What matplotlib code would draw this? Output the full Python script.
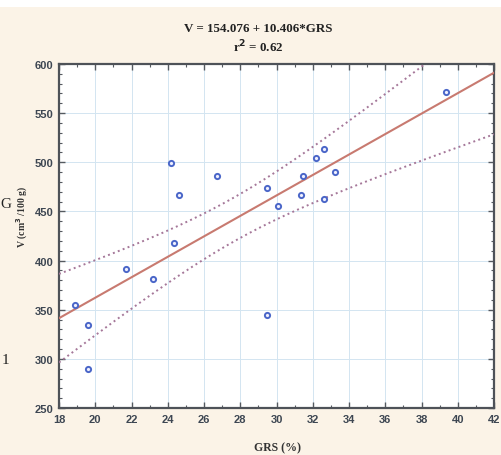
import numpy as np
import matplotlib
matplotlib.use("Agg")
import matplotlib.pyplot as plt
from matplotlib.ticker import MultipleLocator
from matplotlib.patches import Rectangle

# Data
grs = [18.9, 19.6, 19.6, 21.7, 23.2, 24.2, 24.35, 24.6, 26.7, 29.5, 29.5,
       30.1, 31.35, 31.45, 32.2, 32.6, 32.6, 33.2, 39.35]
vol = [355, 334, 290, 391, 381, 499, 418, 467, 486, 345, 474,
       456, 467, 486, 504, 514, 463, 490, 572]
intercept = 154.076
slope = 10.406
title_lines = ["V = 154.076 + 10.406*GRS", "r$^\\mathbf{2}$ = 0.62"]
xlabel = "GRS (%)"
ylabel = "V (cm$^\\mathbf{3}$ /100 g)"

x = np.array(grs)
y = np.array(vol)
n = len(x)

fig = plt.figure(figsize=(5.01, 4.56), dpi=100)
fig.patch.set_facecolor("#fbf3e7")
fig.patches.append(Rectangle((0, 1 - 8 / 456), 1, 8 / 456, transform=fig.transFigure,
                             facecolor="white", edgecolor="none", zorder=0))
ax = fig.add_axes([59 / 501, 1 - 409 / 456, 435 / 501, 344 / 456])
ax.set_facecolor("white")

# regression line and 95% confidence bands
xx = np.linspace(18, 42, 200)
yy = intercept + slope * xx
resid = y - (intercept + slope * x)
s = np.sqrt(np.sum(resid ** 2) / (n - 2))
sxx = np.sum((x - x.mean()) ** 2)
tval = 2.11
half = tval * s * np.sqrt(1 / n + (xx - x.mean()) ** 2 / sxx)

ax.plot(xx, yy, color="#c87a70", lw=1.5, zorder=3)
ax.plot(xx, yy + half, color="#a57799", lw=1.4, ls=(0, (1.0, 1.7)), zorder=3)
ax.plot(xx, yy - half, color="#a57799", lw=1.4, ls=(0, (1.0, 1.7)), zorder=3)

ax.scatter(x, y, s=14, facecolor="#f0f0ff", edgecolor="#4a66c8", lw=1.4, zorder=4)

ax.set_xlim(18, 42)
ax.set_ylim(250, 600)
ax.xaxis.set_major_locator(MultipleLocator(2))
ax.xaxis.set_minor_locator(MultipleLocator(1))
ax.yaxis.set_major_locator(MultipleLocator(50))
ax.yaxis.set_minor_locator(MultipleLocator(10))
ax.grid(True, which="major", color="#d3e5f1", lw=0.7)
ax.set_axisbelow(True)

for sp in ax.spines.values():
    sp.set_color("#4e5258")
    sp.set_linewidth(1.6)

ax.tick_params(which="both", direction="in", top=True, right=True,
               color="#555a60", labelcolor="#3d4652")
ax.tick_params(which="major", length=4, width=1.0, labelsize=8, pad=4)
ax.tick_params(which="minor", length=2, width=0.8)
for lab in ax.get_xticklabels() + ax.get_yticklabels():
    lab.set_fontfamily("Liberation Sans")
    lab.set_fontweight("bold")

fig.text(258 / 501, 1 - 29 / 456, title_lines[0], ha="center", va="center",
         fontsize=9.4, fontweight="bold", family="Liberation Serif", color="#222222")
fig.text(258 / 501, 1 - 47 / 456, title_lines[1], ha="center", va="center",
         fontsize=9.4, fontweight="bold", family="Liberation Serif", color="#222222")
fig.text(278 / 501, 1 - 448 / 456, xlabel, ha="center", va="center",
         fontsize=8.5, fontweight="bold", family="Liberation Serif", color="#333333")
fig.text(22 / 501, 1 - 217 / 456, ylabel, ha="center", va="center", rotation=90,
         fontsize=7, fontweight="bold", family="Liberation Serif", color="#333333")
# stray page characters at the left edge
fig.text(0 / 501, 1 - 205 / 456, "G", ha="left", va="center",
         fontsize=11, family="Liberation Serif", color="#222222")
fig.text(2 / 501, 1 - 361 / 456, "1", ha="left", va="center",
         fontsize=11, family="Liberation Serif", color="#222222")

fig.savefig("out.png", dpi=100, facecolor=fig.get_facecolor())
